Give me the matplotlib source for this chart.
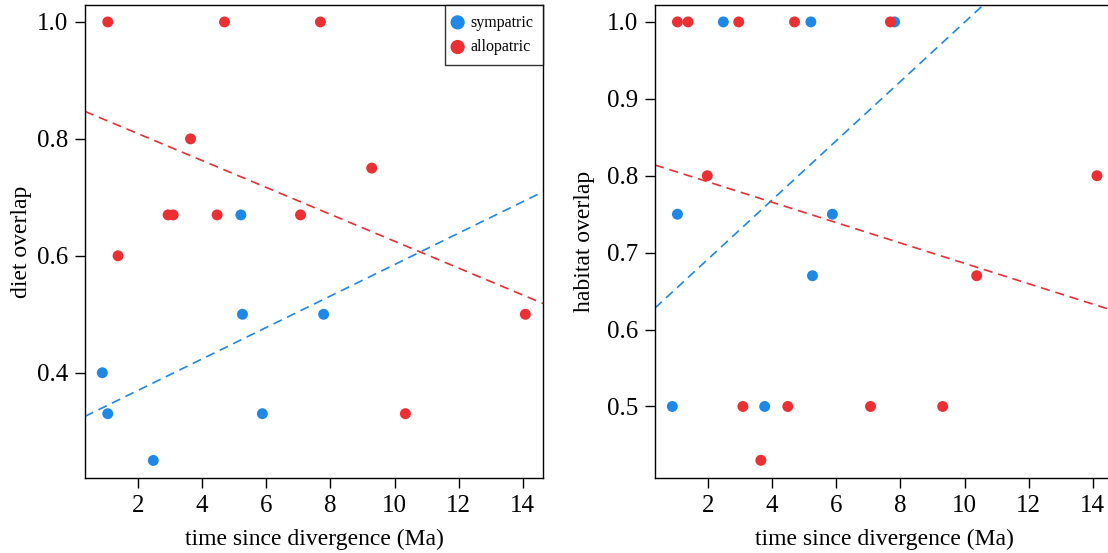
import matplotlib
matplotlib.use("Agg")
import matplotlib.pyplot as plt
import numpy as np

plt.rcParams['font.family'] = ['Liberation Serif', 'DejaVu Serif']

BLUE = '#1e88e8'
RED = '#ec2f33'

# diet overlap panel
diet_sym_x = [0.89, 1.06, 2.48, 5.21, 5.26, 5.88, 7.79]
diet_sym_y = [0.40, 0.33, 0.25, 0.67, 0.50, 0.33, 0.50]
diet_allo_x = [1.06, 1.38, 2.94, 3.10, 3.64, 4.47, 4.70, 7.07, 7.69, 9.29, 10.34, 14.08]
diet_allo_y = [1.00, 0.60, 0.67, 0.67, 0.80, 0.67, 1.00, 0.67, 1.00, 0.75, 0.33, 0.50]
diet_sym_fit = (0.316, 0.0269)     # intercept, slope
diet_allo_fit = (0.855, -0.0230)

# habitat overlap panel
hab_sym_x = [0.89, 1.05, 2.48, 3.77, 5.21, 5.26, 5.88, 7.82]
hab_sym_y = [0.50, 0.75, 1.00, 0.50, 1.00, 0.67, 0.75, 1.00]
hab_allo_x = [1.05, 1.38, 1.98, 2.96, 3.09, 3.65, 4.49, 4.70, 7.07, 7.69, 9.32, 10.38, 14.13]
hab_allo_y = [1.00, 1.00, 0.80, 1.00, 0.50, 0.43, 0.50, 1.00, 0.50, 1.00, 0.50, 0.67, 0.80]
hab_sym_fit = (0.6145, 0.0385)
hab_allo_fit = (0.8186, -0.01325)

x_ticks = [2, 4, 6, 8, 10, 12, 14]
diet_yticks = [0.4, 0.6, 0.8, 1.0]
hab_yticks = [0.5, 0.6, 0.7, 0.8, 0.9, 1.0]

fig = plt.figure(figsize=(11.08, 5.53), dpi=100)
ax1 = fig.add_axes([85/1108, 1-478/553, 458/1108, 473/553])
ax2 = fig.add_axes([655/1108, 1-478/553, 458/1108, 473/553])

XLIM = (0.35, 14.63)
ms = 62
dash = (0, (5.5, 3.5))

def draw(ax, sx, sy, ax_, ay, sfit, afit, ylim, yticks, ylabel, ylpad):
    ax.scatter(sx, sy, s=ms, color=BLUE, edgecolors='none', zorder=3, label='sympatric')
    ax.scatter(ax_, ay, s=ms, color=RED, edgecolors='none', zorder=3, label='allopatric')
    xx = np.array(XLIM)
    ax.plot(xx, sfit[0] + sfit[1]*xx, color=BLUE, lw=1.2, linestyle=dash, zorder=2)
    ax.plot(xx, afit[0] + afit[1]*xx, color=RED, lw=1.2, linestyle=dash, zorder=2)
    ax.set_xlim(*XLIM)
    ax.set_ylim(*ylim)
    ax.set_xticks(x_ticks)
    ax.set_xticklabels([str(t) for t in x_ticks])
    ax.set_yticks(yticks)
    ax.set_yticklabels([f"{t:.1f}" for t in yticks])
    ax.tick_params(direction='out', length=7, width=1, labelsize=18, pad=5)
    for s in ax.spines.values():
        s.set_linewidth(1.0)
    ax.set_xlabel('time since divergence (Ma)', fontsize=17, labelpad=9)
    ax.set_ylabel(ylabel, fontsize=17, labelpad=ylpad)

draw(ax1, diet_sym_x, diet_sym_y, diet_allo_x, diet_allo_y, diet_sym_fit, diet_allo_fit,
     (0.22, 1.029), diet_yticks, 'diet overlap', 4)
draw(ax2, hab_sym_x, hab_sym_y, hab_allo_x, hab_allo_y, hab_sym_fit, hab_allo_fit,
     (0.407, 1.022), hab_yticks, 'habitat overlap', 9)

leg = ax1.legend(loc='upper right', fontsize=11.5, frameon=True, fancybox=False,
                 borderaxespad=0, handletextpad=0.6, borderpad=0.6, labelspacing=0.54,
                 handlelength=0.4, markerscale=1.3)
leg.get_frame().set_edgecolor('black')
leg.get_frame().set_linewidth(1.0)

fig.savefig('out.png', dpi=100)
